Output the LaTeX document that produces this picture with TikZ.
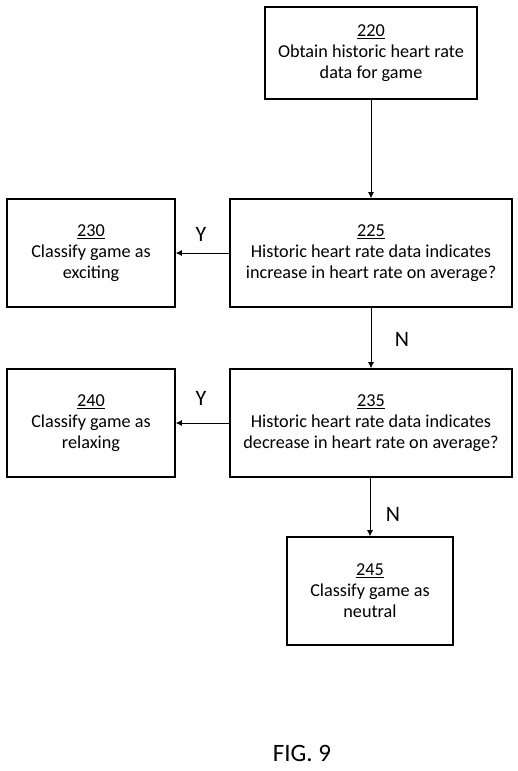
\documentclass[tikz,border=0pt]{standalone}
\usepackage{fontspec}
\setmainfont{Carlito}
\usetikzlibrary{arrows.meta}
\begin{document}
\begin{tikzpicture}[
  x=1pt, y=1pt,
  every node/.style={font=\fontsize{18.2}{21}\selectfont, align=center},
  box/.style={draw, line width=1.6pt, inner sep=4pt, minimum height=108pt},
  line/.style={draw, line width=0.8pt, -{Latex[length=6pt,width=6pt]}},
  answer/.style={font=\fontsize{22}{24}\selectfont}
]
\useasboundingbox (0,0) rectangle (518,-771);

% Start box
\node[box, minimum width=212pt, minimum height=92pt] (n220) at (371, -53) {\underline{220}\\Obtain historic heart rate\\data for game};

% Decision boxes
\node[box, minimum width=282pt] (n225) at (371, -253) {\underline{225}\\Historic heart rate data indicates\\increase in heart rate on average?};
\node[box, minimum width=282pt] (n235) at (371, -423) {\underline{235}\\Historic heart rate data indicates\\decrease in heart rate on average?};

% Result boxes
\node[box, minimum width=168pt] (n230) at (91, -253) {\underline{230}\\Classify game as\\exciting};
\node[box, minimum width=168pt] (n240) at (91, -423) {\underline{240}\\Classify game as\\relaxing};
\node[box, minimum width=166pt] (n245) at (370, -591) {\underline{245}\\Classify game as\\neutral};

% Connectors
\draw[line] (n220) -- (n225);
\draw[line] (n225) -- (n230);
\draw[line] (n225) -- (n235);
\draw[line] (n235) -- (n240);
\draw[line] (n235.south -| n245.north) -- (n245);

% Y / N labels
\node[answer] (y1) at (201, -234) {Y};
\node[answer] (n1) at (402, -339) {N};
\node[answer] (y2) at (201, -398) {Y};
\node[answer] (n2) at (393, -514) {N};

% Caption
\node[font=\fontsize{25}{28}\selectfont] (fig) at (302, -753) {FIG. 9};

\end{tikzpicture}
\end{document}
